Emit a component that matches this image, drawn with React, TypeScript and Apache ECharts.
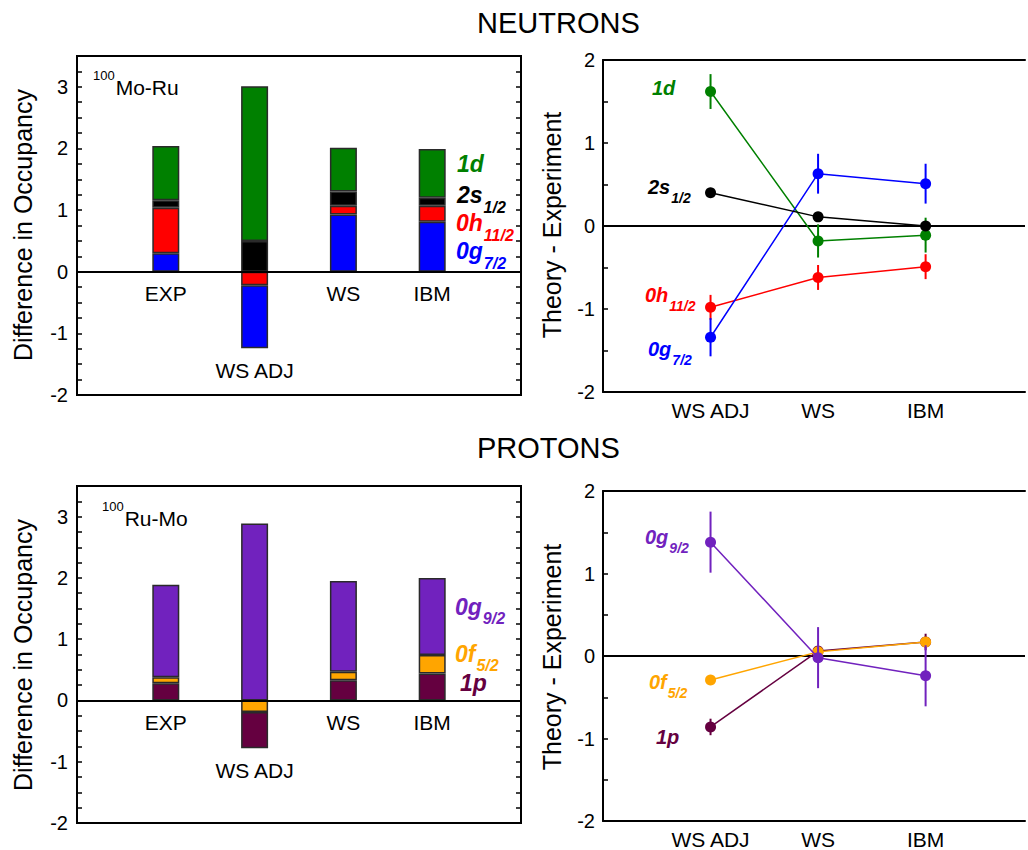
import React, { useEffect, useRef } from 'react';
import * as echarts from 'echarts';

// ---------- data ----------
const barCats = ['', 'EXP', 'WS ADJ', 'WS', 'IBM', ''];
const theoryCats = ['', 'WS ADJ', 'WS', 'IBM'];

// Neutrons: difference in occupancy (EXP, WS ADJ, WS, IBM)
const n0g72 = [0.30, -1.02, 0.93, 0.81];
const n0h112 = [0.74, -0.22, 0.14, 0.26];
const n2s12 = [0.12, 0.50, 0.23, 0.13];
const n1d = [0.88, 2.51, 0.71, 0.79];

// Protons: difference in occupancy (EXP, WS ADJ, WS, IBM)
const p1p = [0.28, -0.59, 0.33, 0.44];
const p0f52 = [0.10, -0.19, 0.14, 0.30];
const p0g92 = [1.51, 2.89, 1.48, 1.26];

// Neutrons: theory - experiment (WS ADJ, WS, IBM)
const tn1d = [1.62, -0.18, -0.11];
const tn1dErr = [0.21, 0.20, 0.21];
const tn2s12 = [0.40, 0.11, 0.0];
const tn2s12Err = [0.03, 0.03, 0.03];
const tn0h112 = [-0.98, -0.62, -0.49];
const tn0h112Err = [0.15, 0.15, 0.15];
const tn0g72 = [-1.34, 0.63, 0.51];
const tn0g72Err = [0.23, 0.24, 0.24];

// Protons: theory - experiment (WS ADJ, WS, IBM)
const tp1p = [-0.86, 0.06, 0.17];
const tp1pErr = [0.10, 0.05, 0.10];
const tp0f52 = [-0.29, 0.05, 0.17];
const tp0f52Err = [0.03, 0.03, 0.03];
const tp0g92 = [1.38, -0.02, -0.24];
const tp0g92Err = [0.37, 0.37, 0.37];

// ---------- style ----------
const FONT = '"Liberation Sans", Arial, Helvetica, sans-serif';
const GREEN = '#008000';
const BLACK = '#000000';
const RED = '#ff0000';
const BLUE = '#0000ff';
const PURPLE = '#7122be';
const ORANGE = '#ffa500';
const DARK = '#650040';

const measure = (text: string, font: string) => {
  const ctx = document.createElement('canvas').getContext('2d')!;
  ctx.font = font;
  return ctx.measureText(text).width;
};

const subLabel = (x: number, y: number, main: string, sub: string, color: string, ms: number, ss: number, dy: number) => {
  const mf = `italic bold ${ms}px ${FONT}`;
  const sf = `italic bold ${ss}px ${FONT}`;
  const w = measure(main, mf);
  const els: any[] = [
    { type: 'text', x, y, silent: true, style: { text: main, fill: color, font: mf, textAlign: 'left', textVerticalAlign: 'middle' } },
  ];
  if (sub) {
    els.push({ type: 'text', x: x + w + 1, y: y + dy, silent: true, style: { text: sub, fill: color, font: sf, textAlign: 'left', textVerticalAlign: 'middle' } });
  }
  return els;
};

const supLabel = (x: number, y: number, sup: string, main: string) => {
  const sf = `13px ${FONT}`;
  const mf = `21px ${FONT}`;
  const w = measure(sup, sf);
  return [
    { type: 'text', x, y: y - 12, silent: true, style: { text: sup, fill: '#000', font: sf, textAlign: 'left', textVerticalAlign: 'middle' } },
    { type: 'text', x: x + w + 1, y, silent: true, style: { text: main, fill: '#000', font: mf, textAlign: 'left', textVerticalAlign: 'middle' } },
  ];
};

const vTitle = (x: number, y: number, text: string) => ({
  type: 'text', x, y, rotation: Math.PI / 2, silent: true,
  style: { text, fill: '#000', font: `25px ${FONT}`, textAlign: 'center', textVerticalAlign: 'middle' },
});

// left panels: full frame; right panels: frame continues off the page on the right
const grids = [
  { left: 77, top: 56, width: 444, height: 339, show: true, borderColor: '#000', borderWidth: 2, backgroundColor: 'transparent' },
  { left: 603, top: 60, right: 0, height: 332, show: false },
  { left: 77, top: 486, width: 444, height: 337, show: true, borderColor: '#000', borderWidth: 2, backgroundColor: 'transparent' },
  { left: 603, top: 491, right: 0, height: 331, show: false },
];
// theory panels: one category step is 108.3 px, panel clipped at the page edge (425 px wide)
const THEORY_XMAX = 425 / 108.3;

const tickStyle = { show: true, inside: true, length: 5, lineStyle: { color: '#000', width: 1.5 } };
const frameLine = { show: true, onZero: false, lineStyle: { color: '#000', width: 2 } };

const leftY = (gridIndex: number, position: 'left' | 'right') => ({
  type: 'value', gridIndex, position, min: -2, max: 3.5, interval: 0.25,
  axisLine: { show: false }, splitLine: { show: false },
  axisTick: tickStyle,
  axisLabel: {
    show: position === 'left', color: '#000', fontSize: 20, fontFamily: FONT, margin: 9,
    formatter: (v: number) => (Number.isInteger(v) ? String(v) : ''),
  },
});

const rightY = (gridIndex: number) => ({
  type: 'value', gridIndex, min: -2, max: 2, interval: 0.5,
  axisLine: frameLine, splitLine: { show: false },
  axisTick: tickStyle,
  axisLabel: {
    color: '#000', fontSize: 20, fontFamily: FONT, margin: 8,
    formatter: (v: number) => (Number.isInteger(v) ? String(v) : ''),
  },
});

const zeroLine = {
  silent: true, symbol: ['none', 'none'], label: { show: false },
  lineStyle: { color: '#000', width: 2, type: 'solid' },
  data: [{ yAxis: 0 }],
};

type BarShell = { name: string; vals: number[]; color: string };

// stacked bars: positive stack bottom->top in given order; negative stack outward in reverse order
const barSeries = (shells: BarShell[], xi: number, yi: number) => {
  const out: any[] = [];
  const common = {
    type: 'bar', xAxisIndex: xi, yAxisIndex: yi, barWidth: 27, barGap: '-100%', silent: true,
  };
  shells.forEach((s, k) => {
    out.push({
      ...common, name: s.name, stack: 'pos' + xi,
      itemStyle: { color: s.color, borderColor: '#2a2a2a', borderWidth: 1.5 },
      data: ['-', ...s.vals.map((v) => (v >= 0 ? v : '-')), '-'],
      ...(k === 0 ? { markLine: zeroLine } : {}),
    });
  });
  [...shells].reverse().forEach((s) => {
    out.push({
      ...common, name: s.name + '-neg', stack: 'neg' + xi,
      itemStyle: { color: s.color, borderColor: '#2a2a2a', borderWidth: 1.5 },
      data: ['-', ...s.vals.map((v) => (v < 0 ? v : '-')), '-'],
    });
  });
  return out;
};

const catLabelPoints = (shells: BarShell[]) =>
  shells[0].vals.map((_, i) => {
    const neg = shells.reduce((acc, s) => acc + Math.min(0, s.vals[i]), 0);
    return { name: barCats[i + 1], x: i + 1, y: neg - 0.36 };
  });

const theorySeries = (shells: { name: string; vals: number[]; err: number[]; color: string }[], xi: number, yi: number) => {
  const out: any[] = [];
  shells.forEach((s, k) => {
    out.push({
      type: 'custom', name: s.name + '-err', xAxisIndex: xi, yAxisIndex: yi, silent: true, z: 2 + k * 2,
      data: s.vals.map((v, i) => [i + 1, v, s.err[i]]),
      encode: { x: 0, y: 1 },
      renderItem: (_p: any, api: any) => {
        const x = api.value(0);
        const y = api.value(1);
        const e = api.value(2);
        const a = api.coord([x, y - e]);
        const b = api.coord([x, y + e]);
        return { type: 'line', shape: { x1: a[0], y1: a[1], x2: b[0], y2: b[1] }, style: { stroke: s.color, lineWidth: 2 } };
      },
    });
    out.push({
      type: 'line', name: s.name, xAxisIndex: xi, yAxisIndex: yi, silent: true, z: 3 + k * 2,
      symbol: 'circle', symbolSize: 11,
      lineStyle: { color: s.color, width: 1.5 },
      itemStyle: { color: s.color },
      data: s.vals.map((v, i) => [i + 1, v]),
      ...(k === 0 ? { markLine: { ...zeroLine, z: 1 } } : {}),
    });
  });
  return out;
};

export default function App() {
  const ref = useRef<HTMLDivElement>(null);
  useEffect(() => {
    if (!ref.current) return;
    const chart = echarts.init(ref.current, undefined, { renderer: 'svg' });
    const leftX = (gridIndex: number) => ({
      type: 'category', gridIndex, data: barCats, boundaryGap: false,
      axisLine: { show: false }, axisTick: { show: false }, axisLabel: { show: false }, splitLine: { show: false },
    });
    const rightX = (gridIndex: number) => ({
      type: 'value', gridIndex, min: 0, max: THEORY_XMAX, interval: 1,
      axisLine: frameLine, axisTick: { show: false }, splitLine: { show: false },
      axisLabel: {
        color: '#000', fontSize: 21, fontFamily: FONT, margin: 8, showMinLabel: true, showMaxLabel: true,
        formatter: (v: number) => (Number.isInteger(v) ? theoryCats[v] || '' : ''),
      },
    });
    const topFrame = (gridIndex: number) => ({
      type: 'value', gridIndex, position: 'top', min: 0, max: THEORY_XMAX,
      axisLine: frameLine, axisTick: { show: false }, axisLabel: { show: false }, splitLine: { show: false },
    });

    const nShells: BarShell[] = [
      { name: '0g7/2', vals: n0g72, color: BLUE },
      { name: '0h11/2', vals: n0h112, color: RED },
      { name: '2s1/2', vals: n2s12, color: BLACK },
      { name: '1d', vals: n1d, color: GREEN },
    ];
    const pShells: BarShell[] = [
      { name: '1p', vals: p1p, color: DARK },
      { name: '0f5/2', vals: p0f52, color: ORANGE },
      { name: '0g9/2', vals: p0g92, color: PURPLE },
    ];

    const series = [
      ...barSeries(nShells, 0, 0),
      ...theorySeries([
        { name: 'T 0h11/2', vals: tn0h112, err: tn0h112Err, color: RED },
        { name: 'T 1d', vals: tn1d, err: tn1dErr, color: GREEN },
        { name: 'T 0g7/2', vals: tn0g72, err: tn0g72Err, color: BLUE },
        { name: 'T 2s1/2', vals: tn2s12, err: tn2s12Err, color: BLACK },
      ], 1, 2),
      ...barSeries(pShells, 2, 3),
      ...theorySeries([
        { name: 'T 1p', vals: tp1p, err: tp1pErr, color: DARK },
        { name: 'T 0f5/2', vals: tp0f52, err: tp0f52Err, color: ORANGE },
        { name: 'T 0g9/2', vals: tp0g92, err: tp0g92Err, color: PURPLE },
      ], 3, 5),
    ];

    const graphics: any[] = [
      { type: 'text', x: 477, y: 23, silent: true, style: { text: 'NEUTRONS', fill: '#000', font: `29px ${FONT}`, textAlign: 'left', textVerticalAlign: 'middle' } },
      { type: 'text', x: 477, y: 448, silent: true, style: { text: 'PROTONS', fill: '#000', font: `29px ${FONT}`, textAlign: 'left', textVerticalAlign: 'middle' } },
      vTitle(23, 225, 'Difference in Occupancy'),
      vTitle(552, 225, 'Theory - Experiment'),
      vTitle(23, 655, 'Difference in Occupancy'),
      vTitle(552, 657, 'Theory - Experiment'),
      ...supLabel(93, 87, '100', 'Mo-Ru'),
      ...supLabel(102, 518, '100', 'Ru-Mo'),
      // top-left shell labels
      ...subLabel(457, 164, '1d', '', GREEN, 23, 16, 12),
      ...subLabel(457, 195, '2s', '1/2', BLACK, 23, 16, 12),
      ...subLabel(456, 223, '0h', '11/2', RED, 23, 16, 12),
      ...subLabel(456, 251, '0g', '7/2', BLUE, 23, 16, 12),
      // top-right shell labels
      ...subLabel(652, 88, '1d', '', GREEN, 20, 14, 11),
      ...subLabel(648, 187, '2s', '1/2', BLACK, 20, 14, 11),
      ...subLabel(645, 295, '0h', '11/2', RED, 20, 14, 11),
      ...subLabel(648, 349, '0g', '7/2', BLUE, 20, 14, 11),
      // bottom-left shell labels
      ...subLabel(455, 607, '0g', '9/2', PURPLE, 23, 16, 11),
      ...subLabel(455, 654, '0f', '5/2', ORANGE, 23, 16, 11),
      ...subLabel(460, 683, '1p', '', DARK, 23, 16, 11),
      // bottom-right shell labels
      ...subLabel(645, 537, '0g', '9/2', PURPLE, 20, 14, 11),
      ...subLabel(649, 682, '0f', '5/2', ORANGE, 20, 14, 11),
      ...subLabel(656, 737, '1p', '', DARK, 20, 14, 11),
    ];

    chart.setOption({
      animation: false,
      backgroundColor: '#ffffff',
      textStyle: { fontFamily: FONT },
      grid: grids,
      xAxis: [leftX(0), rightX(1), leftX(2), rightX(3), topFrame(1), topFrame(3)],
      yAxis: [leftY(0, 'left'), leftY(0, 'right'), rightY(1), leftY(2, 'left'), leftY(2, 'right'), rightY(3)],
      series,
      graphic: graphics,
    });

    // category names under the bars, placed through the axes' scales
    const catTexts: any[] = [];
    [
      { pts: catLabelPoints(nShells), xi: 0, yi: 0 },
      { pts: catLabelPoints(pShells), xi: 2, yi: 3 },
    ].forEach(({ pts, xi, yi }) => {
      pts.forEach((p) => {
        const px = chart.convertToPixel({ xAxisIndex: xi, yAxisIndex: yi }, [p.x, p.y]) as number[];
        catTexts.push({
          type: 'text', x: px[0], y: px[1], silent: true,
          style: { text: p.name, fill: '#000', font: `21px ${FONT}`, textAlign: 'center', textVerticalAlign: 'middle' },
        });
      });
    });
    chart.setOption({ graphic: [...graphics, ...catTexts] });

    return () => chart.dispose();
  }, []);
  return (
    <div
      ref={ref}
      style={{ position: 'absolute', left: 0, top: 0, width: 1028, height: 850, background: '#fff' }}
    />
  );
}
